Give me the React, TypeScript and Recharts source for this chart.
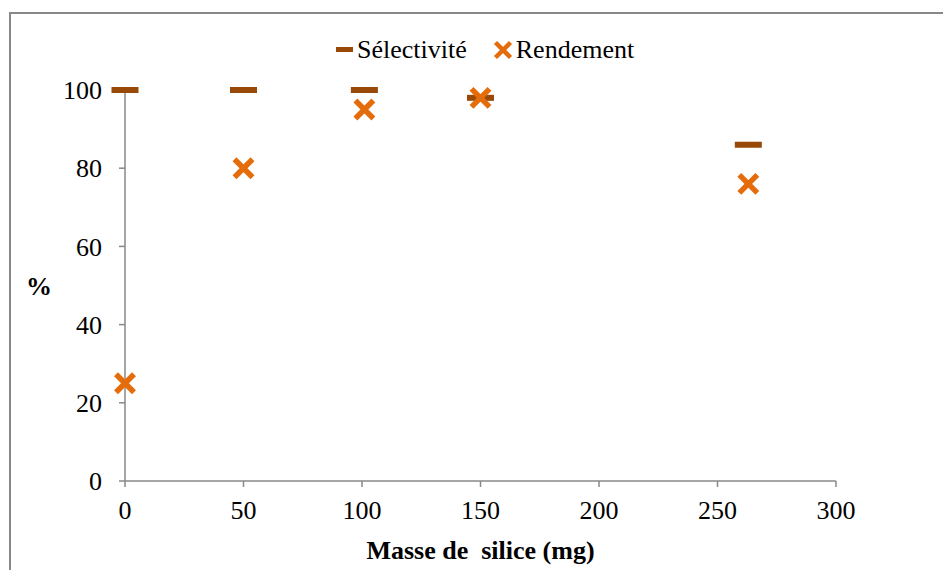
import React from "react";
import {
  ScatterChart,
  Scatter,
  XAxis,
  YAxis,
  Legend,
} from "recharts";

// masse de silice (mg)
const masseSel = [0, 50, 101, 150, 263];
const selectivite = [100, 100, 100, 98, 86];

const masseRend = [0, 50, 101, 150, 263];
const rendement = [25, 80, 95, 98, 76];

const xTicks = [0, 50, 100, 150, 200, 250, 300];
const yTicks = [0, 20, 40, 60, 80, 100];

const DASH_COLOR = "#984807";
const CROSS_COLOR = "#E46C0A";
const AXIS_COLOR = "#888888";
const FONT = "'Liberation Serif', 'Times New Roman', serif";

const selData = masseSel.map((x, i) => ({ x, y: selectivite[i] }));
const rendData = masseRend.map((x, i) => ({ x, y: rendement[i] }));

const DashShape = (props: any) => {
  const { cx, cy } = props;
  return <rect x={cx - 13.5} y={cy - 3} width={27} height={6} fill={DASH_COLOR} />;
};

const CrossShape = (props: any) => {
  const { cx, cy } = props;
  const r = 9;
  return (
    <g stroke={CROSS_COLOR} strokeWidth={5.5}>
      <line x1={cx - r} y1={cy - r} x2={cx + r} y2={cy + r} />
      <line x1={cx - r} y1={cy + r} x2={cx + r} y2={cy - r} />
    </g>
  );
};

const CustomLegend = () => (
  <div
    style={{
      display: "flex",
      alignItems: "center",
      height: 30,
      paddingLeft: 325,
      fontFamily: FONT,
      fontSize: 26,
      color: "#000",
      whiteSpace: "nowrap",
    }}
  >
    <svg width={17} height={6} style={{ marginRight: 4 }}>
      <rect x={0} y={0} width={17} height={5} fill={DASH_COLOR} />
    </svg>
    <span>Sélectivité</span>
    <svg width={20} height={20} style={{ marginLeft: 26, marginRight: 3 }}>
      <g stroke={CROSS_COLOR} strokeWidth={4.5}>
        <line x1={2.5} y1={2.5} x2={17.5} y2={17.5} />
        <line x1={2.5} y1={17.5} x2={17.5} y2={2.5} />
      </g>
    </svg>
    <span>Rendement</span>
  </div>
);

export default function App() {
  return (
    <div
      style={{
        position: "absolute",
        left: 9,
        top: 12,
        width: 932,
        height: 556,
        borderTop: `2px solid ${AXIS_COLOR}`,
        borderLeft: `2px solid ${AXIS_COLOR}`,
        background: "#fff",
      }}
    >
      <ScatterChart
        width={932}
        height={556}
        margin={{ top: 76, right: 107, bottom: 0, left: 0 }}
      >
        <XAxis
          type="number"
          dataKey="x"
          domain={[0, 300]}
          ticks={xTicks}
          height={89}
          stroke={AXIS_COLOR}
          strokeWidth={1.5}
          tickSize={6}
          tickMargin={14}
          tick={{ fill: "#000", fontFamily: FONT, fontSize: 26 }}
          label={{
            value: "Masse de\u00A0 silice (mg)",
            position: "insideBottom",
            offset: 11,
            style: { fill: "#000", fontFamily: FONT, fontSize: 26, fontWeight: "bold" },
          }}
        />
        <YAxis
          type="number"
          dataKey="y"
          domain={[0, 100]}
          ticks={yTicks}
          width={114}
          stroke={AXIS_COLOR}
          strokeWidth={1.5}
          tickSize={6}
          tickMargin={17}
          tick={{ fill: "#000", fontFamily: FONT, fontSize: 26 }}
          label={{
            value: "%",
            position: "insideLeft",
            offset: 15,
            style: { fill: "#000", fontFamily: FONT, fontSize: 26, fontWeight: "bold" },
          }}
        />
        <Legend
          verticalAlign="middle"
          align="center"
          content={<CustomLegend />}
          wrapperStyle={{ top: 21, left: 0, width: 932 }}
        />
        <Scatter
          name="Sélectivité"
          data={selData}
          shape={<DashShape />}
          isAnimationActive={false}
        />
        <Scatter
          name="Rendement"
          data={rendData}
          shape={<CrossShape />}
          isAnimationActive={false}
        />
      </ScatterChart>
    </div>
  );
}
